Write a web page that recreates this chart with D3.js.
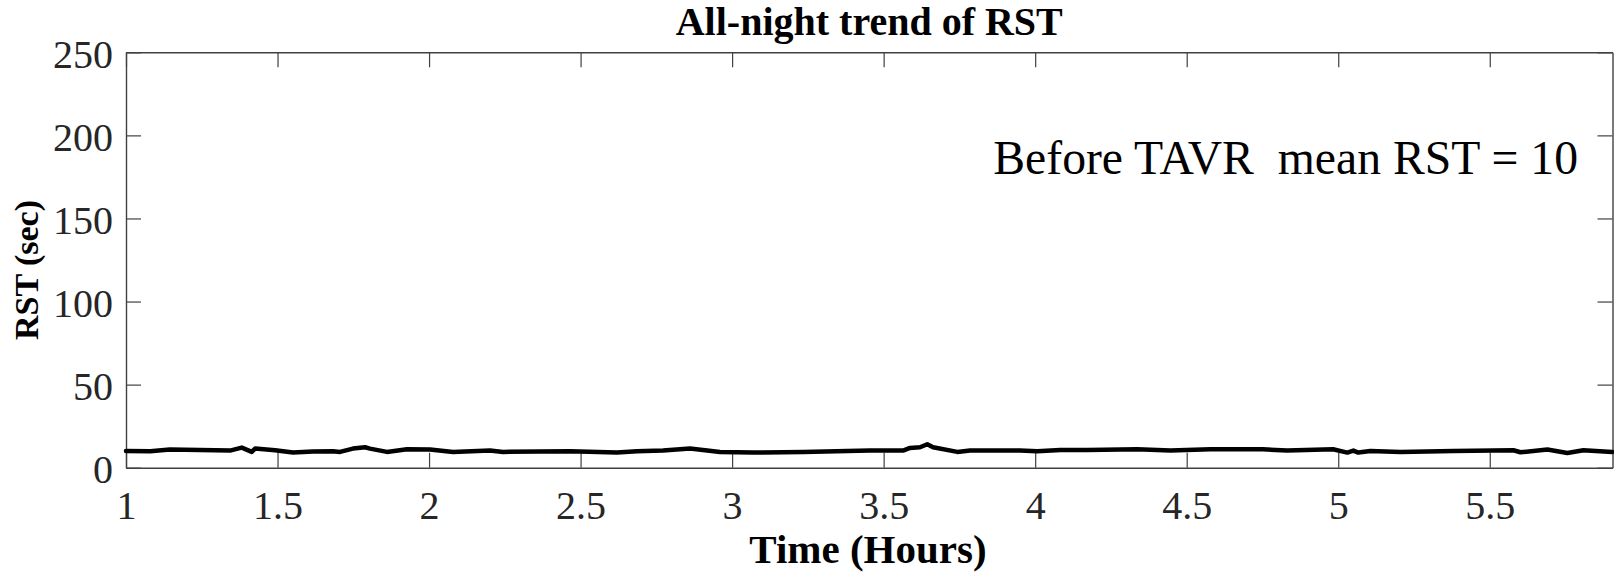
<!DOCTYPE html>
<html>
<head>
<meta charset="utf-8">
<script src="https://cdn.jsdelivr.net/npm/d3@7"></script>
<style>
  html, body { margin: 0; padding: 0; background: #fff; }
  svg { display: block; }
</style>
</head>
<body>
<svg id="chart" width="1614" height="574"></svg>
<script>
// RST trend over the night (hours since start, seconds)
const timeHours = [
  1.000, 1.080, 1.145, 1.244, 1.343, 1.382, 1.415, 1.426, 1.492, 1.551,
  1.617, 1.683, 1.706, 1.749, 1.789, 1.805, 1.861, 1.927, 2.003, 2.079,
  2.201, 2.244, 2.465, 2.620, 2.686, 2.772, 2.861, 2.960, 3.069, 3.234,
  3.380, 3.455, 3.564, 3.587, 3.620, 3.644, 3.663, 3.743, 3.785, 3.950,
  4.007, 4.083, 4.172, 4.337, 4.446, 4.578, 4.752, 4.832, 4.983, 5.030,
  5.050, 5.066, 5.106, 5.205, 5.380, 5.578, 5.601, 5.690, 5.756, 5.809,
  5.904
];
const rstSec = [
  10.0,  9.9, 11.0, 10.6, 10.3, 12.1,  9.5, 11.5, 10.5,  9.1,
   9.8,  9.9,  9.5, 11.5, 12.3, 11.5,  9.5, 11.1, 11.0,  9.5,
  10.3,  9.5,  9.9,  9.1,  9.9, 10.3, 11.5,  9.5,  9.1,  9.5,
  10.1, 10.3, 10.3, 11.9, 12.3, 14.1, 12.3,  9.5, 10.3, 10.3,
   9.9, 10.7, 10.7, 11.1, 10.3, 11.1, 11.1, 10.3, 11.1,  9.1,
  10.3,  9.1, 10.0,  9.5, 10.1, 10.5,  9.3, 10.9,  8.9, 10.5,
   9.5
];
const xTicks = [1, 1.5, 2, 2.5, 3, 3.5, 4, 4.5, 5, 5.5];
const yTicks = [0, 50, 100, 150, 200, 250];
const xDomain = [1, 5.905];
const yDomain = [0, 250];

const titleText = "All-night trend of RST";
const xLabel = "Time (Hours)";
const yLabel = "RST (sec)";
const noteText = "Before TAVR  mean RST = 10";

(function draw() {
  const FONT = "Liberation Serif";
  const svg = d3.select("#chart");
  const plotLeft = 126, plotRight = 1612.5, plotTop = 52.3, plotBottom = 467.7;
  const tickLen = 15;
  const axisColor = "#404040";

  const x = d3.scaleLinear().domain(xDomain).range([plotLeft, plotRight]);
  const y = d3.scaleLinear().domain(yDomain).range([plotBottom, plotTop]);

  // Bottom axis with labels, ticks pointing inward
  const gx = svg.append("g").attr("transform", `translate(0,${plotBottom})`)
    .call(d3.axisBottom(x).tickValues(xTicks).tickFormat(d3.format("")).tickSizeInner(-tickLen).tickSizeOuter(0).tickPadding(23));
  // Top mirror axis
  const gxt = svg.append("g").attr("transform", `translate(0,${plotTop})`)
    .call(d3.axisTop(x).tickValues(xTicks).tickFormat("").tickSizeInner(-tickLen).tickSizeOuter(0));
  // Left axis
  const gy = svg.append("g").attr("transform", `translate(${plotLeft},0)`)
    .call(d3.axisLeft(y).tickValues(yTicks).tickFormat(d3.format("")).tickSizeInner(-tickLen).tickSizeOuter(0).tickPadding(13));
  // Right mirror axis
  const gyr = svg.append("g").attr("transform", `translate(${plotRight},0)`)
    .call(d3.axisRight(y).tickValues(yTicks).tickFormat("").tickSizeInner(-tickLen).tickSizeOuter(0));

  [gx, gxt, gy, gyr].forEach(g => {
    g.attr("font-family", FONT).attr("font-size", 40);
    g.select(".domain").attr("stroke", axisColor).attr("stroke-width", 1.4);
    g.selectAll(".tick line").attr("stroke", axisColor).attr("stroke-width", 1.2);
    g.selectAll(".tick text").attr("fill", "#262626");
  });
  gx.selectAll(".tick text").attr("dy", "0.71em");
  gy.selectAll(".tick text").attr("dy", "0.38em");

  // Trend line
  const line = d3.line().x((d, i) => x(timeHours[i])).y(d => y(d));
  svg.append("path")
    .datum(rstSec)
    .attr("fill", "none")
    .attr("stroke", "#000")
    .attr("stroke-width", 4.5)
    .attr("stroke-linejoin", "round")
    .attr("stroke-linecap", "round")
    .attr("d", line);

  // Title
  svg.append("text")
    .attr("x", (plotLeft + plotRight) / 2).attr("y", 35)
    .attr("text-anchor", "middle")
    .attr("font-family", FONT).attr("font-size", 40).attr("font-weight", "bold")
    .text(titleText);

  // Axis labels
  svg.append("text")
    .attr("x", 868).attr("y", 563)
    .attr("text-anchor", "middle")
    .attr("font-family", FONT).attr("font-size", 41).attr("font-weight", "bold")
    .text(xLabel);

  svg.append("text")
    .attr("transform", "translate(38,270) rotate(-90)")
    .attr("text-anchor", "middle")
    .attr("font-family", FONT).attr("font-size", 34).attr("font-weight", "bold")
    .text(yLabel);

  // Annotation
  svg.append("text")
    .attr("x", 1578).attr("y", 174)
    .attr("text-anchor", "end")
    .attr("font-family", FONT).attr("font-size", 47.7)
    .attr("xml:space", "preserve")
    .style("white-space", "pre")
    .text(noteText);
})();
</script>
</body>
</html>
